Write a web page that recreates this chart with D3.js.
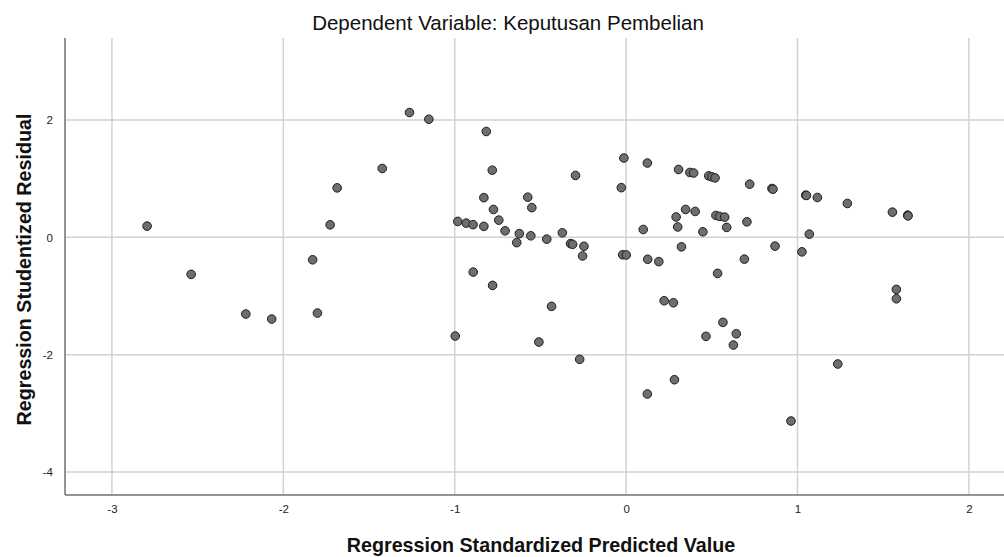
<!DOCTYPE html>
<html><head><meta charset="utf-8">
<script src="https://cdn.jsdelivr.net/npm/d3@7"></script>
<style>body{margin:0;background:#fff;} svg{display:block;font-family:"Liberation Sans",Arial,sans-serif;}</style>
</head><body>
<svg id="c" width="1004" height="557"></svg>
<script>
const chartTitle = "Dependent Variable: Keputusan Pembelian";
const xTitle = "Regression Standardized Predicted Value";
const yTitle = "Regression Studentized Residual";
const xTicks = [-3, -2, -1, 0, 1, 2];
const yTicks = [2, 0, -2, -4];
const predicted = [
 -2.795,-2.538,-2.219,-2.068,-1.801,-1.829,-1.727,-1.686,-1.423,-1.264,
 -1.151,-0.816,-0.781,-0.830,-0.774,-0.743,-0.706,-0.982,-0.933,-0.893,
 -0.830,-0.623,-0.638,-0.556,-0.574,-0.550,-0.463,-0.372,-0.324,-0.312,
 -0.246,-0.254,-0.295,-0.892,-0.779,-0.435,-0.997,-0.509,-0.271,-0.013,
 -0.028,0.124,0.306,0.372,0.394,0.482,0.501,0.519,0.721,0.851,
 0.857,1.048,1.052,1.116,1.291,1.554,1.643,1.645,0.100,0.292,
 0.347,0.403,0.301,0.323,0.448,0.524,0.546,0.575,0.587,0.705,
 1.069,-0.020,0.001,0.126,0.191,0.534,0.690,0.869,1.026,1.577,
 1.577,0.222,0.276,0.565,0.466,0.643,0.626,1.235,0.282,0.124,0.962];
const residual = [
 0.191,-0.631,-1.307,-1.392,-1.290,-0.383,0.213,0.843,1.173,2.126,
 2.012,1.803,1.144,0.676,0.475,0.293,0.111,0.271,0.242,0.216,
 0.187,0.063,-0.090,0.026,0.684,0.506,-0.031,0.077,-0.107,-0.119,
 -0.153,-0.317,1.054,-0.592,-0.819,-1.176,-1.682,-1.784,-2.078,1.351,
 0.846,1.266,1.156,1.105,1.096,1.047,1.030,1.013,0.906,0.832,
 0.820,0.718,0.713,0.679,0.577,0.429,0.378,0.366,0.134,0.347,
 0.475,0.441,0.177,-0.162,0.094,0.373,0.356,0.344,0.169,0.264,
 0.054,-0.298,-0.300,-0.374,-0.414,-0.614,-0.371,-0.150,-0.247,-0.887,
 -1.047,-1.081,-1.115,-1.449,-1.687,-1.643,-1.835,-2.158,-2.426,-2.669,-3.129];

const svg = d3.select("#c");
const L = 65, R = 1004, T = 38, B = 495;
const x = d3.scaleLinear().domain([-3.274, 2.205]).range([L, R]);
const y = d3.scaleLinear().domain([-4.39, 3.396]).range([B, T]);

// gridlines
svg.append("g").selectAll("line").data(xTicks).join("line")
  .attr("x1", d => x(d)).attr("x2", d => x(d)).attr("y1", T).attr("y2", B)
  .attr("stroke", "#d2d2d2").attr("stroke-width", 1.5);
svg.append("g").selectAll("line").data(yTicks).join("line")
  .attr("x1", L).attr("x2", R).attr("y1", d => y(d)).attr("y2", d => y(d))
  .attr("stroke", "#d2d2d2").attr("stroke-width", 1.5);

// axes
const fmt = d => String(d);
const xAxis = d3.axisBottom(x).tickValues(xTicks).tickSize(0).tickPadding(10).tickFormat(fmt);
const yAxis = d3.axisLeft(y).tickValues(yTicks).tickSize(0).tickPadding(12).tickFormat(fmt);
const gx = svg.append("g").attr("transform", `translate(0,${B})`).call(xAxis);
const gy = svg.append("g").attr("transform", `translate(${L},0)`).call(yAxis);
[gx, gy].forEach(g => {
  g.select(".domain").attr("stroke", "#707070").attr("stroke-width", 1.5);
  g.selectAll("text").attr("font-size", 11.5).attr("fill", "#222").attr("font-family", "Liberation Sans, Arial, sans-serif");
});
gx.select(".domain").attr("d", `M${L},0H${R}`);
gy.select(".domain").attr("d", `M0,${T}V${B}`);

// points
svg.append("g").selectAll("circle").data(predicted.map((p, i) => [p, residual[i]])).join("circle")
  .attr("cx", d => x(d[0])).attr("cy", d => y(d[1])).attr("r", 4.3)
  .attr("fill", "#6e6e6e").attr("stroke", "#1e1e1e").attr("stroke-width", 1);

// titles
svg.append("text").attr("x", 508).attr("y", 30).attr("text-anchor", "middle")
  .attr("font-size", 20.5).attr("fill", "#111").text(chartTitle);
svg.append("text").attr("x", 541).attr("y", 552).attr("text-anchor", "middle")
  .attr("font-size", 19.7).attr("font-weight", "bold").attr("fill", "#111").text(xTitle);
svg.append("text").attr("transform", `translate(31,${(T + B) / 2 + 3}) rotate(-90)`).attr("text-anchor", "middle")
  .attr("font-size", 19.7).attr("font-weight", "bold").attr("fill", "#111").text(yTitle);
</script>
</body></html>
